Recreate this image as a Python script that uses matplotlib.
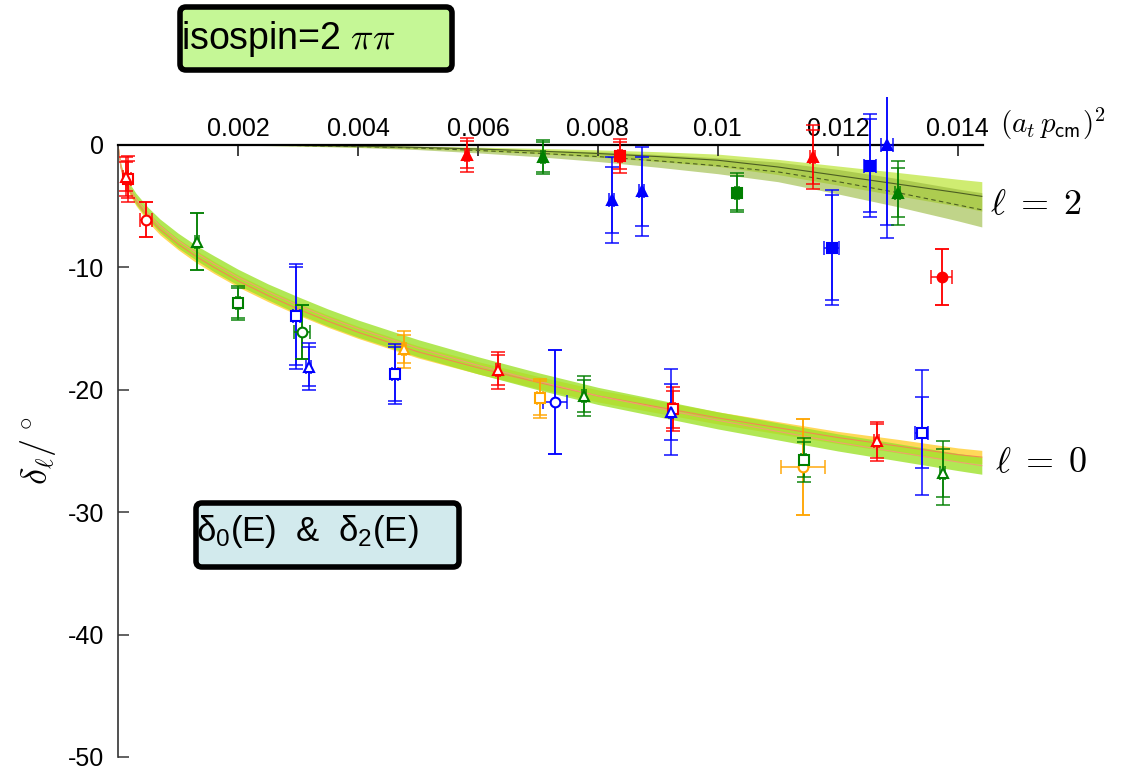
import numpy as np
import matplotlib
matplotlib.use("Agg")
import matplotlib.pyplot as plt
from matplotlib.patches import FancyBboxPatch
from matplotlib.transforms import IdentityTransform

plt.rcParams['font.family'] = ['Liberation Sans', 'DejaVu Sans']
plt.rcParams['mathtext.fontset'] = 'custom'
plt.rcParams['mathtext.rm'] = 'Liberation Sans'
plt.rcParams['mathtext.it'] = 'Liberation Sans:italic'
plt.rcParams['axes.unicode_minus'] = False

# ---- l = 0 phase shift points (open symbols) ----
s_x = [0.00017, 0.00013, 0.00047, 0.00132, 0.00200, 0.00297, 0.00307, 0.00318,
       0.00462, 0.00477, 0.00633, 0.00703, 0.00728, 0.00777, 0.00925, 0.00922,
       0.01142, 0.01143, 0.01265, 0.01340, 0.01375]
s_delta = [-2.8, -2.6, -6.1, -7.9, -12.9, -14.0, -15.3, -18.1,
           -18.7, -16.7, -18.4, -20.7, -21.0, -20.5, -21.6, -21.8,
           -26.3, -25.7, -24.2, -23.5, -26.8]
s_stat = [1.5, 1.2, 1.4, 2.3, 1.2, 4.0, 2.2, 1.6,
          2.2, 1.15, 1.2, 1.4, 4.25, 1.3, 1.5, 2.3,
          3.9, 1.4, 1.4, 2.9, 2.0]
s_tot = [1.9, 1.6, 1.4, 2.3, 1.4, 4.3, 2.2, 1.9,
         2.45, 1.5, 1.5, 1.6, 4.25, 1.65, 1.8, 3.5,
         3.9, 1.8, 1.6, 5.1, 2.6]
s_xerr = [0.00004, 0.00004, 0.0001, 0.00003, 0.00004, 0.00006, 0.00013, 0.00004,
          0.00005, 0.00003, 0.00003, 0.00005, 0.0002, 0.00004, 0.00004, 0.00004,
          0.00037, 0.00004, 0.00004, 0.00011, 0.00004]
s_frame = ['000', '000', '000', '100', '100', '110', '100', '110',
           '110', '111', '000', '111', '110', '100', '000', '110',
           '111', '100', '000', '110', '100']
s_volume = [20, 24, 16, 24, 20, 20, 16, 24,
            20, 24, 24, 20, 16, 24, 20, 24,
            16, 20, 24, 20, 24]

# ---- l = 2 phase shift points (filled symbols) ----
d_x = [0.00582, 0.00708, 0.00837, 0.00823, 0.00873, 0.01032,
       0.01158, 0.01190, 0.01253, 0.01282, 0.01300, 0.01373]
d_delta = [-0.8, -1.0, -0.9, -4.5, -3.8, -3.9,
           -1.0, -8.4, -1.7, 0.0, -3.9, -10.8]
d_stat = [1.1, 1.2, 1.1, 2.7, 2.8, 1.4,
          2.2, 4.3, 3.8, 6.5, 2.0, 2.3]
d_tot = [1.4, 1.4, 1.4, 3.5, 3.6, 1.6,
         2.6, 4.7, 4.2, 7.6, 2.6, 2.3]
d_xerr = [0.00003, 0.00003, 0.00003, 0.00004, 0.00004, 0.00004,
          0.00004, 0.000125, 0.0001, 0.0001, 0.00004, 0.00017]
d_frame = ['000', '100', '000', '110', '110', '100',
           '000', '110', '110', '110', '100', '000']
d_volume = [24, 24, 20, 24, 24, 20,
            24, 20, 20, 24, 24, 16]

# ---- l = 0 fit bands ----
fit0_x = [0, 0.00005, 0.0001, 0.0002, 0.0003, 0.0005, 0.0007, 0.001, 0.0013,
          0.0016, 0.002, 0.0025, 0.003, 0.0035, 0.004, 0.005, 0.006, 0.007,
          0.008, 0.009, 0.010, 0.011, 0.012, 0.013, 0.014, 0.0144]
fit0a_mid = [0, -1.8, -2.6, -3.6, -4.4, -5.6, -6.6, -7.8, -8.8,
             -9.7, -10.8, -12.0, -13.1, -14.1, -15.0, -16.6, -18.0, -19.3,
             -20.5, -21.5, -22.5, -23.4, -24.3, -25.1, -25.9, -26.2]
fit0a_half = [0, 0.2, 0.3, 0.4, 0.45, 0.5, 0.55, 0.6, 0.6,
              0.65, 0.65, 0.65, 0.7, 0.7, 0.7, 0.7, 0.7, 0.7,
              0.7, 0.7, 0.7, 0.7, 0.7, 0.7, 0.7, 0.7]
fit0b_mid = [0, -1.9, -2.8, -3.8, -4.6, -5.9, -6.9, -8.1, -9.1,
             -10.0, -11.1, -12.3, -13.4, -14.4, -15.3, -16.9, -18.2, -19.4,
             -20.5, -21.4, -22.3, -23.1, -23.9, -24.6, -25.3, -25.5]
fit0b_half = [0, 0.15, 0.2, 0.3, 0.35, 0.4, 0.45, 0.45, 0.5,
              0.5, 0.5, 0.5, 0.5, 0.5, 0.5, 0.5, 0.5, 0.5,
              0.5, 0.5, 0.5, 0.5, 0.5, 0.55, 0.55, 0.55]

# ---- l = 2 fit bands ----
fit2_x = [0, 0.002, 0.003, 0.004, 0.005, 0.006, 0.007, 0.008, 0.009,
          0.010, 0.011, 0.012, 0.013, 0.014, 0.0144]
fit2a_mid = [0, -0.01, -0.04, -0.1, -0.2, -0.33, -0.5, -0.7, -0.95,
             -1.25, -1.8, -2.5, -3.2, -3.9, -4.2]
fit2a_half = [0, 0.01, 0.03, 0.06, 0.1, 0.15, 0.22, 0.3, 0.4,
              0.5, 0.62, 0.78, 0.95, 1.1, 1.2]
fit2b_mid = [0, -0.01, -0.05, -0.13, -0.25, -0.45, -0.68, -0.95, -1.3,
             -1.7, -2.2, -3.0, -3.9, -4.9, -5.3]
fit2b_half = [0, 0.01, 0.04, 0.08, 0.13, 0.2, 0.28, 0.4, 0.52,
              0.65, 0.8, 1.0, 1.15, 1.3, 1.4]

frame_colors = {'000': '#ff0000', '100': '#007f00', '110': '#0000ff', '111': '#ffa500'}
volume_markers = {16: 'o', 20: 's', 24: '^'}

W, H = 1121, 766
fig = plt.figure(figsize=(W / 100, H / 100), dpi=100)
ax = fig.add_axes([118 / W, 9 / H, (983 - 118) / W, (757 - 97.2) / H])
ax.set_xlim(0, 0.01442)
ax.set_ylim(-50, 3.9)


def band(x, mid, half, color, line_color, ls='-', alpha=0.8, lw=0.8):
    x = np.array(x)
    mid = np.array(mid)
    half = np.array(half)
    ax.fill_between(x, mid - half, mid + half, color=color, alpha=alpha,
                    lw=0, zorder=1)
    ax.plot(x, mid, color=line_color, lw=lw, ls=ls, zorder=2)


band(fit0_x, fit0b_mid, fit0b_half, '#ffd23c', '#f08a50', alpha=0.85)
band(fit0_x, fit0a_mid, fit0a_half, '#9ee22a', '#f0a070', alpha=0.8)
band(fit2_x, fit2a_mid, fit2a_half, '#c3e84e', '#4c5e22', alpha=0.8)
band(fit2_x, fit2b_mid, fit2b_half, '#97b83a', '#4c5e22', ls=(0, (4, 3)), alpha=0.6)


def points(xs, ys, stat, tot, xerr, frames, vols, filled):
    for x, y, e1, e2, ex, fr, v in zip(xs, ys, stat, tot, xerr, frames, vols):
        c = frame_colors[fr]
        m = volume_markers[v]
        ax.errorbar(x, y, yerr=e2, xerr=ex, fmt='none', ecolor=c, elinewidth=1.3,
                    capsize=4.8, capthick=1.3, alpha=0.8, zorder=3)
        ax.errorbar(x, y, yerr=e1, fmt='none', ecolor=c, elinewidth=1.3,
                    capsize=4.8, capthick=1.3, alpha=0.8, zorder=3)
        ax.plot(x, y, marker=m, ms=7, mec=c, mew=1.5,
                mfc=c if filled else 'white', ls='none', zorder=4)


points(s_x, s_delta, s_stat, s_tot, s_xerr, s_frame, s_volume, filled=False)
points(d_x, d_delta, d_stat, d_tot, d_xerr, d_frame, d_volume, filled=True)

# axes cosmetics: x axis drawn along delta = 0 with labels above it
for side in ('right', 'bottom'):
    ax.spines[side].set_visible(False)
ax.spines['top'].set_position(('data', 0))
ax.spines['top'].set_linewidth(1.6)
ax.spines['top'].set_bounds(0, 0.01442)
ax.spines['left'].set_bounds(-50, 0)
ax.spines['left'].set_color('#333333')
ax.spines['left'].set_linewidth(1.2)
ax.xaxis.set_ticks_position('top')
ax.set_xticks([0.002, 0.004, 0.006, 0.008, 0.01, 0.012, 0.014],
              ['0.002', '0.004', '0.006', '0.008', '0.01', '0.012', '0.014'])
ax.set_yticks([0, -10, -20, -30, -40, -50], ['0', '-10', '-20', '-30', '-40', '-50'])
ax.tick_params(axis='x', direction='in', length=8, width=1.3, color='#333333',
               labelsize=18, pad=3)
ax.tick_params(axis='y', direction='in', length=8, width=1.3, color='#555555',
               labelsize=18, pad=10)
ax.patch.set_alpha(0)

fig.text(1000 / W, 1 - 124 / H, r'$(a_t\,p_{\mathsf{cm}})^2$', fontsize=21,
         math_fontfamily='cm', va='center', ha='left')
fig.text(38 / W, 1 - 450 / H, r'$\delta_\ell/^\circ$', fontsize=26,
         math_fontfamily='cm', rotation=90, va='center', ha='center')
fig.text(990 / W, 1 - 205 / H, r'$\ell \;=\; 2$', fontsize=26,
         math_fontfamily='cm', va='center', ha='left')
fig.text(995 / W, 1 - 463 / H, r'$\ell \;=\; 0$', fontsize=26,
         math_fontfamily='cm', va='center', ha='left')

# framed captions
fig.add_artist(FancyBboxPatch((180, H - 70), 272, 63,
                              boxstyle='round,pad=0,rounding_size=6',
                              fc='#c5f796', ec='black', lw=4,
                              transform=IdentityTransform()))
fig.text(181 / W, 1 - 39 / H, r'isospin=2 $\pi\pi$', fontsize=27,
         math_fontfamily='cm', va='center', ha='left')
fig.add_artist(FancyBboxPatch((196, H - 567), 263, 64,
                              boxstyle='round,pad=0,rounding_size=6',
                              fc='#d2eaed', ec='black', lw=4,
                              transform=IdentityTransform()))
fig.text(196 / W, 1 - 531 / H, r'δ$_0$(E)  &  δ$_2$(E)', fontsize=25,
         va='center', ha='left')

fig.savefig('out.png', dpi=100)
